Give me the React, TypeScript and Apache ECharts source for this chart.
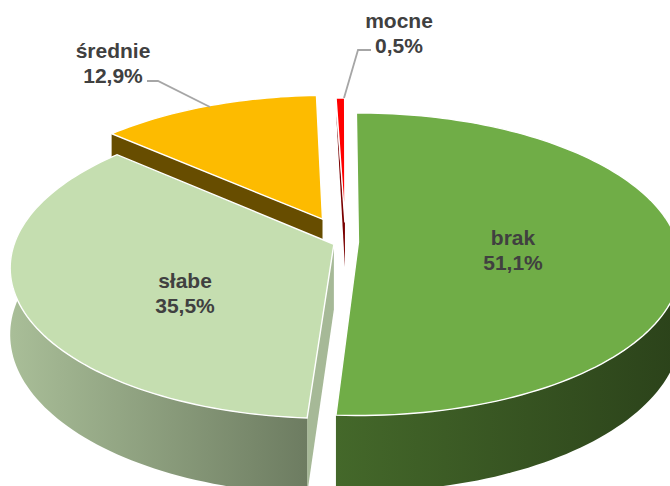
import React, { useEffect, useRef } from "react";
import * as echarts from "echarts";

const categories = ["brak", "słabe", "średnie", "mocne"];
const shares = [51.1, 35.5, 12.9, 0.5];
const explode = [0.04, 0.04, 0.175, 0.134];
const topColors = ["#70ad47", "#c5deb0", "#fdbb00", "#ff0000"];
const wallFrom = ["#44682a", "#a9be98", "#674d00", "#7a0000"];
const wallTo = ["#2b421a", "#6d7c61", "#674d00", "#7a0000"];
const faceColors = ["#2b421a", "#a6b997", "#674d00", "#7a0000"];
const labelPos = [[513, 250], [185, 293], [113, 63], [399, 33]];
const leaderLines = [
  [[344, 98], [358, 50], [371, 50]],
  [[210, 107], [158, 81], [147, 81]],
];

const CX = 345.7, CY = 242, RX = 319, RY = 148, K = 0.1458, DEPTH = 65, START = -0.4, SHEAR = 1.5;
const rad = (d: number) => (d * Math.PI) / 180;

function buildRanges() {
  const total = shares.reduce((a, b) => a + b, 0);
  let a = START;
  return shares.map((s) => {
    const from = a;
    a += (s / total) * 360;
    return [from, a];
  });
}
const ranges = buildRanges();

function project(u: number, v: number, h: number) {
  const den = 1 + K * v;
  return [CX + SHEAR * v + (RX * u) / den, CY + (-RY * v + h * DEPTH) / den];
}

function renderSlice(params: any, api: any) {
  const i = api.value(0);
  const [from, to] = ranges[i];
  const mid = rad((from + to) / 2);
  const eu = Math.sin(mid) * explode[i];
  const ev = Math.cos(mid) * explode[i];
  const p = (t: number, r: number, h: number) =>
    project(eu + r * Math.sin(rad(t)), ev + r * Math.cos(rad(t)), h);
  const arc = (a: number, b: number, h: number) => {
    const n = Math.max(2, Math.ceil(Math.abs(b - a) / 1.5));
    const pts = [];
    for (let j = 0; j <= n; j++) pts.push(p(a + ((b - a) * j) / n, 1, h));
    return pts;
  };
  const children: any[] = [];
  const poly = (points: number[][], fill: any, stroke?: string) =>
    children.push({
      type: "polygon",
      shape: { points },
      style: { fill, stroke: stroke || null, lineWidth: stroke ? 1.4 : 0 },
    });
  const grad = new echarts.graphic.LinearGradient(0, 0, 1, 0, [
    { offset: 0, color: wallFrom[i] },
    { offset: 1, color: wallTo[i] },
  ]);
  if (i === 3) {
    // the thin wedge shows only a sliver of its cut face
    poly([p(from, 1, 0.25), p(from, 0, 0), p(from, 0, 0.7)], faceColors[i]);
  } else if (i === 2) {
    poly([p(from, 1, 0), p(from, 0, 0), p(from, 0, 1), p(from, 1, 1)], faceColors[i]);
  } else {
    if (i === 1) {
      poly([p(from, 0, 0), p(from, 1, 0), p(from, 1, 1), p(from, 0, 1)], faceColors[i]);
    }
    const a0 = i === 0 ? 80 : from;
    const b0 = i === 0 ? to : Math.min(to, 280);
    const top = arc(a0, b0, 0);
    const bot = arc(a0, b0, 1).reverse();
    poly([...top, ...bot], grad);
  }
  poly([p(from, 0, 0), ...arc(from, to, 0)], topColors[i], "#ffffff");
  return { type: "group", children };
}

export default function App() {
  const ref = useRef<HTMLDivElement>(null);
  useEffect(() => {
    const chart = echarts.init(ref.current!, null, { renderer: "svg" });
    const drawOrder = categories.map((_, i) => i).reverse();
    const labelText = categories.map(
      (c, i) => `${c}\n${shares[i].toFixed(1).replace(".", ",")}%`
    );
    chart.setOption({
      animation: false,
      backgroundColor: "#ffffff",
      series: [
        {
          type: "custom",
          coordinateSystem: "none",
          silent: true,
          clip: false,
          renderItem: renderSlice,
          data: drawOrder.map((i) => [i, shares[i]]),
        },
      ],
      graphic: [
        ...leaderLines.map((points) => ({
          type: "polyline",
          z: 20,
          shape: { points },
          style: { stroke: "#a6a6a6", lineWidth: 1.8, fill: null },
        })),
        ...labelText.map((text, i) => ({
          type: "text",
          z: 21,
          x: labelPos[i][0],
          y: labelPos[i][1],
          style: {
            text,
            fill: "#404040",
            font: 'bold 21px "Liberation Sans", Arial, sans-serif',
            lineHeight: 25,
            align: "center",
            verticalAlign: "middle",
          },
        })),
      ],
    });
    return () => chart.dispose();
  }, []);
  return (
    <div
      ref={ref}
      style={{ position: "absolute", left: 0, top: 0, width: 670, height: 486, overflow: "hidden" }}
    />
  );
}
